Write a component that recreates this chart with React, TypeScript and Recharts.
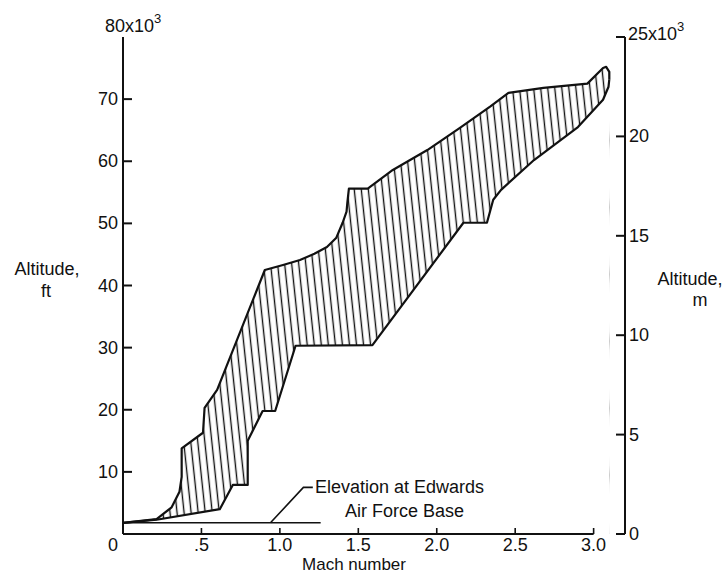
import React from 'react';
import { ComposedChart, Area, Line, XAxis, YAxis, ReferenceLine } from 'recharts';

// Mach number ticks
const machTicks = [0, 0.5, 1.0, 1.5, 2.0, 2.5, 3.0];
const machTickLabels = ['0', '.5', '1.0', '1.5', '2.0', '2.5', '3.0'];
// Altitude ticks (x10^3 ft and x10^3 m)
const ftTicks = [10, 20, 30, 40, 50, 60, 70, 80];
const mTicks = [0, 5, 10, 15, 20, 25];

// Upper boundary of flight envelope (Mach, altitude in 10^3 ft)
const upperMach = [0, 0.214, 0.31, 0.36, 0.374, 0.374, 0.51, 0.52, 0.60, 0.904, 1.02, 1.128, 1.22, 1.30, 1.36, 1.40, 1.425, 1.43, 1.44, 1.56, 1.72, 1.94, 2.15, 2.34, 2.457, 2.68, 2.96, 3.06, 3.08, 3.10, 3.10];
const upperAlt = [1.8, 2.4, 4.3, 6.8, 9.2, 13.8, 16.3, 20.3, 23.2, 42.5, 43.3, 44.1, 45.1, 46.2, 47.7, 50.1, 51.9, 53.3, 55.6, 55.6, 58.6, 61.8, 65.4, 68.8, 71.0, 71.8, 72.5, 75.0, 75.2, 74.4, 73.2];

// Lower boundary of flight envelope
const lowerMach = [0, 0.214, 0.617, 0.70, 0.795, 0.795, 0.89, 0.97, 1.10, 1.59, 2.17, 2.32, 2.36, 2.41, 2.62, 2.90, 3.06, 3.095, 3.10];
const lowerAlt = [1.8, 2.3, 4.0, 7.9, 7.9, 15.0, 19.8, 19.8, 30.3, 30.4, 50.1, 50.1, 53.8, 55.4, 60.2, 65.5, 69.9, 72.0, 73.2];

// Edwards AFB elevation line and leader
const edwardsMach = [0, 1.26];
const edwardsAlt = [1.8, 1.8];
const leaderMach = [0.94, 1.15, 1.21];
const leaderAlt = [1.8, 7.5, 7.5];

const toRows = (ms: number[], as: number[]) => ms.map((m, i) => ({ mach: m, alt: as[i] }));
const upperData = toRows(upperMach, upperAlt);
const lowerData = toRows(lowerMach, lowerAlt);
const edwardsData = toRows(edwardsMach, edwardsAlt);
const leaderData = toRows(leaderMach, leaderAlt);

const FONT = "'Liberation Sans', Arial, sans-serif";
const INK = '#111';

const FtTick = (p: any) => {
  const { x, y, payload } = p;
  if (payload.value === 80) {
    return (
      <text x={x - 18} y={y - 5} fontSize={18} fontFamily={FONT} fill={INK}>
        80x10<tspan dy={-9} fontSize={13}>3</tspan>
      </text>
    );
  }
  return (
    <g>
      <line x1={x} x2={x + 9} y1={y} y2={y} stroke={INK} strokeWidth={2} />
      <text x={x - 5} y={y} dy={6} textAnchor="end" fontSize={18} fontFamily={FONT} fill={INK}>
        {payload.value}
      </text>
    </g>
  );
};

const MTick = (p: any) => {
  const { x, y, payload } = p;
  return (
    <g>
      <line x1={x - 9} x2={x} y1={y} y2={y} stroke={INK} strokeWidth={2} />
      {payload.value === 25 ? (
        <text x={x + 3} y={y + 3} fontSize={18} fontFamily={FONT} fill={INK}>
          25x10<tspan dy={-9} fontSize={13}>3</tspan>
        </text>
      ) : (
        <text x={x + 4} y={y} dy={6} fontSize={18} fontFamily={FONT} fill={INK}>
          {payload.value}
        </text>
      )}
    </g>
  );
};

const MachTick = (p: any) => {
  const { x, y, payload } = p;
  const i = machTicks.indexOf(payload.value);
  const label = i >= 0 ? machTickLabels[i] : String(payload.value);
  return (
    <g>
      {payload.value !== 0 && <line x1={x} x2={x} y1={y} y2={y - 6} stroke={INK} strokeWidth={1.6} />}
      <text x={payload.value === 0 ? x - 10 : x} y={y + 17} textAnchor="middle" fontSize={18} fontFamily={FONT} fill={INK}>
        {label}
      </text>
    </g>
  );
};

export default function App() {
  return (
    <div style={{ position: 'absolute', left: 0, top: 0, width: 728, height: 575, background: '#fff' }}>
      <ComposedChart width={728} height={575} margin={{ top: 37, right: 63, bottom: 11, left: 83 }}>
        <defs>
          <pattern id="hatch" patternUnits="userSpaceOnUse" width={7} height={10} patternTransform="rotate(-6)">
            <line x1={3.5} y1={-1} x2={3.5} y2={11} stroke={INK} strokeWidth={1.4} />
          </pattern>
        </defs>
        <XAxis
          dataKey="mach"
          type="number"
          domain={[0, 3.2]}
          ticks={machTicks}
          interval={0}
          allowDataOverflow
          axisLine={false}
          tickLine={false}
          tickSize={0}
          tickMargin={0}
          height={30}
          tick={<MachTick />}
        />
        <YAxis
          yAxisId="ft"
          type="number"
          domain={[0, 80]}
          ticks={ftTicks}
          interval={0}
          allowDataOverflow
          axisLine={{ stroke: INK, strokeWidth: 2 }}
          tickLine={false}
          tickSize={0}
          tickMargin={0}
          width={40}
          tick={<FtTick />}
        />
        <YAxis
          yAxisId="m"
          orientation="right"
          type="number"
          domain={[0, 25]}
          ticks={mTicks}
          interval={0}
          allowDataOverflow
          axisLine={{ stroke: INK, strokeWidth: 2 }}
          tickLine={false}
          tickSize={0}
          tickMargin={0}
          width={40}
          tick={<MTick />}
        />
        <Area yAxisId="ft" data={upperData} dataKey="alt" type="linear" stroke="none" fill="url(#hatch)" fillOpacity={1} isAnimationActive={false} dot={false} activeDot={false} />
        <Area yAxisId="ft" data={lowerData} dataKey="alt" type="linear" stroke="none" fill="#fff" fillOpacity={1} isAnimationActive={false} dot={false} activeDot={false} />
        <Line yAxisId="ft" data={upperData} dataKey="alt" type="linear" stroke={INK} strokeWidth={2.2} strokeLinejoin="round" dot={false} activeDot={false} isAnimationActive={false} />
        <Line yAxisId="ft" data={lowerData} dataKey="alt" type="linear" stroke={INK} strokeWidth={2.2} strokeLinejoin="round" dot={false} activeDot={false} isAnimationActive={false} />
        <Line yAxisId="ft" data={edwardsData} dataKey="alt" type="linear" stroke={INK} strokeWidth={1.6} dot={false} activeDot={false} isAnimationActive={false} />
        <Line yAxisId="ft" data={leaderData} dataKey="alt" type="linear" stroke={INK} strokeWidth={1.6} dot={false} activeDot={false} isAnimationActive={false} />
        <ReferenceLine yAxisId="ft" segment={[{ x: 0, y: 0 }, { x: 3.0, y: 0 }]} stroke={INK} strokeWidth={2} />
      </ComposedChart>
      <svg width={728} height={575} style={{ position: 'absolute', left: 0, top: 0, pointerEvents: 'none' }}>
        <g fontFamily={FONT} fontSize={18} fill={INK}>
          <text x={47} y={275} textAnchor="middle">Altitude,</text>
          <text x={46} y={297} textAnchor="middle">ft</text>
          <text x={690} y={285} textAnchor="middle">Altitude,</text>
          <text x={700} y={306} textAnchor="middle">m</text>
          <text x={354} y={570} textAnchor="middle" fontSize={17}>Mach number</text>
          <text x={315} y={493}>Elevation at Edwards</text>
          <text x={345} y={517}>Air Force Base</text>
        </g>
      </svg>
    </div>
  );
}
